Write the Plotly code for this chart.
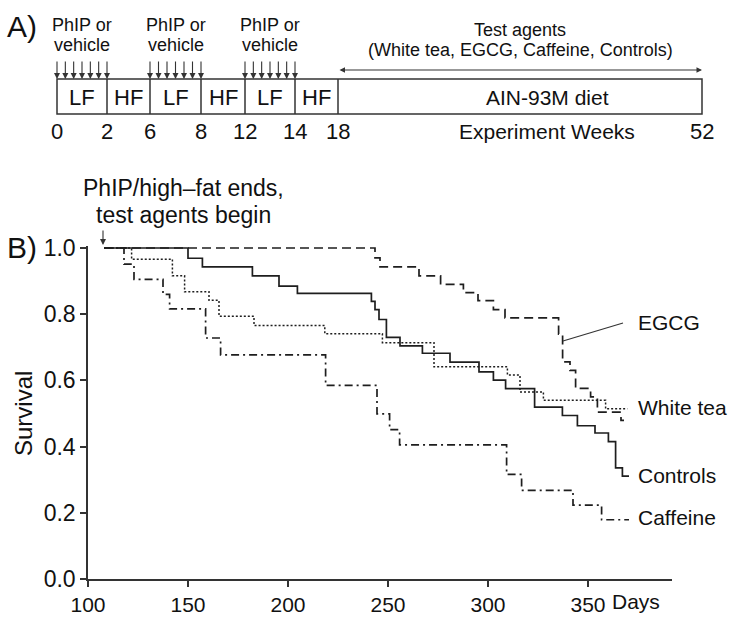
import numpy as np
import plotly.graph_objects as go

W, H = 729, 624

# ---------------- data ----------------
series_names = ["Controls", "EGCG", "White tea", "Caffeine"]

controls_days = [108, 150, 157.2, 182.2, 195.5, 204.7, 241.7, 243.5, 245.5, 249.2, 256, 267.2,
                 281, 295.5, 302.7, 308.8, 323.3, 337.2, 344.7, 353.5, 360.2, 363.8, 367.2, 370.5]
controls_surv = [1.0, 0.969, 0.943, 0.916, 0.885, 0.863, 0.839, 0.814, 0.784, 0.730, 0.704, 0.682,
                 0.655, 0.626, 0.601, 0.575, 0.519, 0.494, 0.463, 0.441, 0.415, 0.336, 0.311, 0.311]

egcg_days = [108, 243.5, 246, 265.5, 276.3, 287.7, 295, 302.7, 308.5, 335.3, 337.3, 341,
             343.8, 351.3, 354.7, 366.5, 368]
egcg_surv = [1.0, 0.97, 0.943, 0.916, 0.890, 0.865, 0.841, 0.814, 0.789, 0.74, 0.656, 0.63,
             0.576, 0.55, 0.504, 0.479, 0.479]

whitetea_days = [108, 121.8, 142.2, 148.3, 160.5, 165.5, 183, 218.4, 247.2, 273, 309.7, 316,
                 327.7, 358.8, 369.7]
whitetea_surv = [1.0, 0.966, 0.916, 0.868, 0.842, 0.794, 0.766, 0.741, 0.714, 0.641, 0.616, 0.565,
                 0.540, 0.514, 0.514]

caffeine_days = [108, 118, 123, 137.5, 140.8, 158.8, 166.3, 218.8, 244.5, 250.8, 255.8, 309.3,
                 316.8, 342.5, 356.8, 370.5]
caffeine_surv = [1.0, 0.951, 0.905, 0.86, 0.816, 0.728, 0.677, 0.585, 0.499, 0.451, 0.405, 0.316,
                 0.268, 0.223, 0.179, 0.179]

x_ticks = [100, 150, 200, 250, 300, 350]
y_ticks = [0.0, 0.2, 0.4, 0.6, 0.8, 1.0]

week_labels = ["0", "2", "6", "8", "12", "14", "18", "52"]
block_labels = ["LF", "HF", "LF", "HF", "LF", "HF", "AIN-93M diet"]

# ---------------- helpers (pixel -> paper) ----------------
def px(x):
    return x / W

def py(y):
    return 1 - y / H

INK = "#1e1e1e"
FONT = "Arial, Liberation Sans, Helvetica, sans-serif"

fig = go.Figure()

styles = {
    "Controls": dict(dash="solid", width=1.7),
    "EGCG": dict(dash="9px,5px", width=1.7),
    "White tea": dict(dash="2px,2px", width=1.5),
    "Caffeine": dict(dash="8px,4px,2px,4px", width=1.7),
}
data = {
    "Controls": (controls_days, controls_surv),
    "EGCG": (egcg_days, egcg_surv),
    "White tea": (whitetea_days, whitetea_surv),
    "Caffeine": (caffeine_days, caffeine_surv),
}
for name in series_names:
    d, s = data[name]
    fig.add_trace(go.Scatter(x=d, y=s, mode="lines", line_shape="hv", name=name,
                             line=dict(color=INK, **styles[name]), showlegend=False))

# main axis geometry
x_left_px, x_right_px = 88, 672
y_bottom_px, y_top_px = 579, 246
fig.update_layout(
    width=W, height=H,
    margin=dict(l=0, r=0, t=0, b=0, autoexpand=False),
    plot_bgcolor="white", paper_bgcolor="white",
    font=dict(family=FONT, color="#111111"),
    xaxis=dict(domain=[px(x_left_px), px(x_right_px)], range=[100, 392], automargin=False,
               tickvals=x_ticks, ticktext=[str(v) for v in x_ticks],
               showline=True, linecolor="#333", linewidth=1.5,
               ticks="outside", ticklen=6, tickwidth=1.5, tickcolor="#333",
               showgrid=False, zeroline=False, tickfont=dict(size=21)),
    yaxis=dict(domain=[py(y_bottom_px), py(y_top_px)], range=[0, 1.006], automargin=False,
               tickvals=y_ticks, tickformat=".1f",
               showline=True, linecolor="#333", linewidth=1.5,
               ticks="outside", ticklen=6, tickwidth=1.5, tickcolor="#333",
               showgrid=False, zeroline=False, tickfont=dict(size=23)),
)

ann = []
def text(x, y, t, size=18, xanchor="center", angle=0):
    ann.append(dict(x=px(x), y=py(y), xref="paper", yref="paper", text=t, showarrow=False,
                    xanchor=xanchor, yanchor="middle", textangle=angle,
                    font=dict(size=size, family=FONT, color="#111111")))

# ---------------- panel A schematic ----------------
bounds = [57, 107, 150, 201, 245, 295, 338, 702]
box_top, box_bot = 79, 114
shapes = [dict(type="rect", xref="paper", yref="paper", x0=px(bounds[0]), x1=px(bounds[-1]),
               y0=py(box_bot), y1=py(box_top), line=dict(color="#333", width=1.5))]
for b in bounds[1:-1]:
    shapes.append(dict(type="line", xref="paper", yref="paper", x0=px(b), x1=px(b),
                       y0=py(box_bot), y1=py(box_top), line=dict(color="#333", width=1.5)))
for i, lab in enumerate(block_labels):
    cx = (bounds[i] + bounds[i + 1]) / 2
    text(cx if i < 6 else 547, 97, lab, size=22 if i < 6 else 21)
for b, lab in zip(bounds, week_labels):
    text(b, 131, lab, size=22)
text(547, 131, "Experiment Weeks", size=21)
text(22, 27, "A)", size=30)

# dosing arrows over LF blocks
for i in (0, 2, 4):
    cx = (bounds[i] + bounds[i + 1]) / 2
    text(cx, 25, "PhIP or", size=18)
    text(cx, 45, "vehicle", size=18)
    for xa in np.linspace(bounds[i], bounds[i + 1], 7):
        ann.append(dict(x=px(xa), y=py(box_top), xref="paper", yref="paper", text="",
                        showarrow=True, ax=0, ay=-19, arrowhead=2, arrowsize=1.1,
                        arrowwidth=1.1, arrowcolor="#333"))

# test agents double arrow
ann.append(dict(x=px(702), y=py(70), xref="paper", yref="paper", ax=-(702 - 338), ay=0,
                text="", showarrow=True, arrowhead=2, startarrowhead=2,
                arrowside="end+start", arrowsize=1, arrowwidth=1.1, arrowcolor="#333"))
text(520, 30, "Test agents", size=18)
text(520, 50, "(White tea, EGCG, Caffeine, Controls)", size=18)

# ---------------- panel B annotations ----------------
text(22, 248, "B)", size=30)
text(184, 188, "PhIP/high–fat ends,", size=23)
text(184, 215, "test agents begin", size=23)
ann.append(dict(x=px(103), y=py(245), xref="paper", yref="paper", text="", showarrow=True,
                ax=0, ay=-16, arrowhead=2, arrowsize=1.1, arrowwidth=1.1, arrowcolor="#333"))
text(23, 413, "Survival", size=24, angle=-90)
text(636, 601, "Days", size=21)

label_pos = {"EGCG": (636, 322), "White tea": (636, 407), "Controls": (636, 475), "Caffeine": (636, 517)}
for name in series_names:
    lx, ly = label_pos[name]
    text(lx, ly, name, size=21, xanchor="left")
shapes.append(dict(type="line", xref="paper", yref="paper", x0=px(563), y0=py(341),
                   x1=px(623), y1=py(323), line=dict(color="#333", width=1.1)))

fig.update_layout(annotations=ann, shapes=shapes)
fig.write_html("out.html", config={"displayModeBar": False},
               post_script="document.body.style.margin='0';document.body.style.padding='0';")
